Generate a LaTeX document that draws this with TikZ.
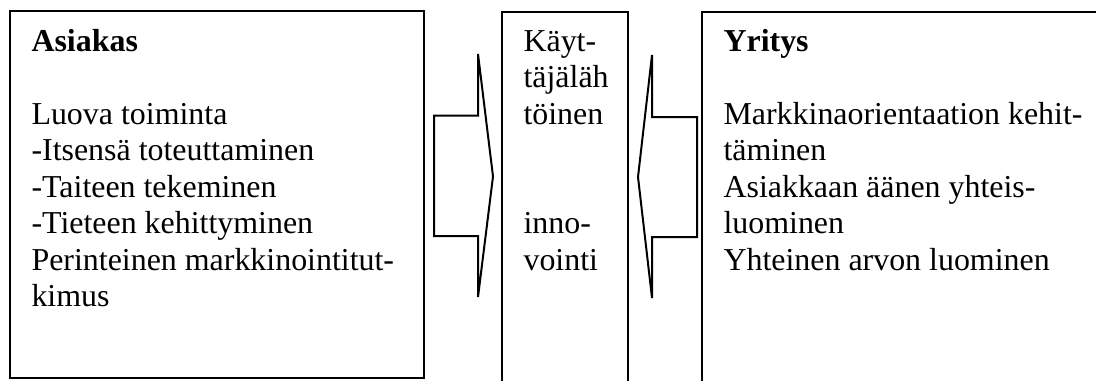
\documentclass[tikz,border=0pt]{standalone}
\usepackage{fontspec}
\setmainfont{Liberation Serif}
\begin{document}
\begin{tikzpicture}[x=0.376pt,y=-0.376pt,
  frame/.style={draw=black,line width=0.75pt},
  blockarrow/.style={draw=black,line width=0.75pt,line join=miter},
  txt/.style={anchor=base west,inner sep=0pt,font=\fontsize{12}{13.8}\selectfont}]
\useasboundingbox (0,0) rectangle (1096,380);

% left box: customer
\draw[frame] (10,11) rectangle (424,378);
% middle box (open at the bottom)
\draw[frame] (502,382) -- (502,11.5) -- (628,11.5) -- (628,382);
% right box (continues past the right and bottom edges)
\draw[frame] (702,382) -- (702,11.5) -- (1098,11.5);

% block arrow pointing right, into the middle box
\draw[blockarrow] (434,115.5) -- (478,115.5) -- (478,54) -- (493,176.5)
  -- (478,297) -- (478,236) -- (434,236) -- cycle;
% block arrow pointing left, into the middle box
\draw[blockarrow] (697,117) -- (652,117) -- (652,55) -- (638,177)
  -- (652,298) -- (652,237) -- (697,237) -- cycle;

% customer text
\node[txt] (a0) at (31,51) {\textbf{Asiakas}};
\node[txt] (a1) at (31,124) {Luova toiminta};
\node[txt] (a2) at (31,160.5) {-Itsensä toteuttaminen};
\node[txt] (a3) at (31,197) {-Taiteen tekeminen};
\node[txt] (a4) at (31,233.5) {-Tieteen kehittyminen};
\node[txt] (a5) at (31,270) {Perinteinen markkinointitut-};
\node[txt] (a6) at (31,306.5) {kimus};

% middle text
\node[txt] (m0) at (523,51) {Käyt-};
\node[txt] (m1) at (523,87.5) {täjäläh};
\node[txt] (m2) at (523,124) {töinen};
\node[txt] (m3) at (523,233.5) {inno-};
\node[txt] (m4) at (523,270) {vointi};

% company text
\node[txt] (y0) at (723,51) {\textbf{Yritys}};
\node[txt] (y1) at (723,124) {Markkinaorientaation kehit-};
\node[txt] (y2) at (723,160.5) {täminen};
\node[txt] (y3) at (723,197) {Asiakkaan äänen yhteis-};
\node[txt] (y4) at (723,233.5) {luominen};
\node[txt] (y5) at (723,270) {Yhteinen arvon luominen};
\end{tikzpicture}
\end{document}
